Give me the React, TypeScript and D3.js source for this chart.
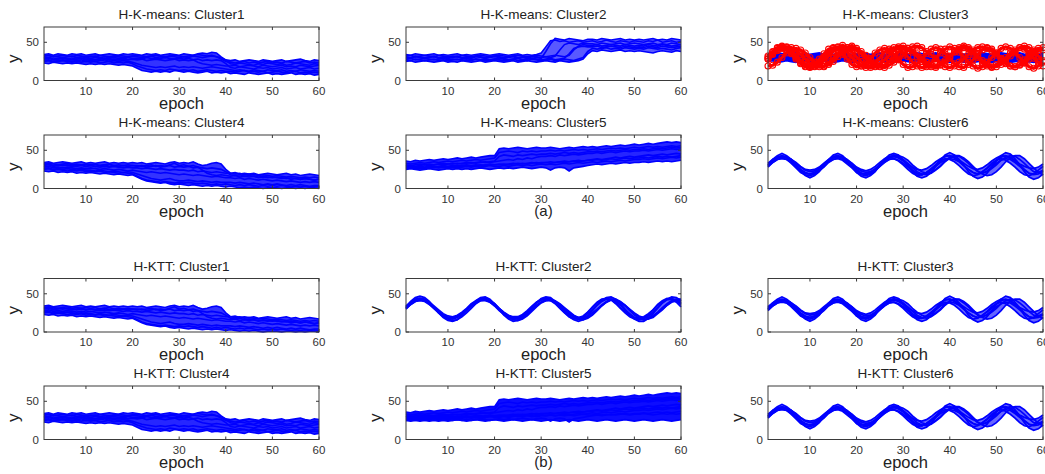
import React from "react";
import * as d3 from "d3";

// x axis: epochs 1..60
const epochs = d3.range(1, 61);
const xTicks = [10, 20, 30, 40, 50, 60];
const yTicks = [0, 50];

// level near 30, then a drop (H-K-means Cluster1, H-KTT Cluster4)
const dropLines: number[][] = [
  [34,35,33,35,34,33,35,34,35,33, 34,35,33,34,35,34,33,35,34,35, 34,33,35,34,35,33,34,35,34,33,
   35,34,33,35,36,35,37,36,31,27, 26,27,25,26,27,26,25,27,26,25, 26,27,25,26,27,28,26,25,27,26],
  [31,30,32,31,30,31,32,30,31,30, 31,32,30,31,30,32,31,30,31,32, 31,30,31,32,30,31,30,32,31,30,
   31,30,32,31,30,31,32,31,30,26, 22,21,23,22,21,20,22,21,23,22, 21,22,20,21,23,22,21,20,22,21],
  [28,29,27,28,29,28,27,28,29,27, 28,27,28,29,27,28,27,28,27,28, 27,28,26,27,28,27,26,27,28,26,
   27,26,27,28,26,27,26,27,26,22, 17,16,18,17,16,15,17,16,17,15, 16,17,15,16,17,15,16,17,15,16],
  [25,26,24,25,26,25,24,25,24,25, 24,25,23,24,25,23,24,23,24,22, 19,17,15,14,13,14,13,15,14,13,
   14,13,14,12,13,14,13,12,13,12, 12,11,12,13,11,12,11,12,10,11, 12,11,10,11,12,10,11,10,11,10],
  [23,22,24,23,22,23,22,23,22,21, 22,21,22,21,22,21,20,21,20,19, 16,13,12,11,12,11,12,11,13,12,
   11,12,11,10,11,12,10,11,10,11, 9,10,9,8,10,9,8,9,10,8, 9,8,9,10,8,9,8,9,7,8],
  [29,30,28,29,30,29,28,30,29,28, 29,30,29,28,29,30,29,28,30,29, 29,28,30,29,28,29,30,29,28,29,
   28,29,27,24,22,21,20,21,20,19, 19,20,18,19,20,19,18,20,19,18, 19,20,18,19,18,20,19,18,19,20],
  [32,33,31,32,33,32,31,33,32,31, 32,31,33,32,31,32,33,32,31,32, 33,32,31,32,33,32,31,32,33,32,
   31,32,33,34,33,32,33,31,28,25, 24,23,24,25,23,24,23,24,25,23, 24,23,25,24,23,24,25,23,24,23],
  [26,27,25,26,27,26,25,26,27,25, 26,25,26,27,25,26,25,26,25,24, 22,20,19,18,17,18,17,18,19,17,
   18,17,18,17,16,17,18,17,16,15, 14,13,14,13,12,14,13,12,14,13, 13,14,12,13,12,14,13,12,13,12],
];

// slow decline with a split after epoch 20 (H-K-means Cluster4, H-KTT Cluster1)
const declineLines: number[][] = [
  [34,35,33,34,35,34,33,34,35,33, 34,33,34,35,33,34,33,34,33,34, 33,34,32,33,34,33,32,34,35,33,
   34,33,35,32,30,31,33,34,32,25, 20,21,19,20,19,20,18,19,20,19, 18,19,20,18,19,17,18,19,18,17],
  [31,32,30,31,30,31,30,29,30,29, 30,29,28,29,28,29,28,27,28,27, 27,26,27,26,25,26,25,24,25,24,
   24,23,24,22,23,22,21,22,21,20, 20,19,20,18,19,18,17,18,17,16, 17,16,15,16,15,14,15,14,15,14],
  [28,29,27,28,27,28,27,26,27,26, 27,26,25,26,25,24,25,24,23,24, 23,22,21,22,21,20,21,20,19,18,
   19,18,17,18,17,16,15,16,15,14, 14,13,14,12,13,12,11,12,11,10, 11,10,9,10,9,8,9,8,9,8],
  [25,26,24,25,24,23,24,23,24,22, 23,22,23,21,22,21,20,21,20,19, 16,13,11,10,9,8,9,8,7,8,
   7,8,7,6,7,6,5,6,5,6, 5,4,5,4,5,4,3,4,3,4, 3,4,3,2,3,2,3,2,3,2],
  [23,22,23,21,22,21,22,20,21,20, 21,20,19,20,19,18,19,18,17,18, 15,12,10,9,8,7,8,6,5,6,
   5,4,5,4,3,4,3,4,3,2, 3,2,1,2,1,2,1,0,1,1, 1,0,1,1,0,1,0,1,1,0],
  [30,31,29,30,31,30,29,30,31,29, 30,29,30,31,29,30,29,30,29,30, 29,30,28,29,30,28,29,31,33,30,
   31,29,30,28,24,20,18,17,18,17, 16,17,15,16,15,16,14,15,14,15, 14,13,14,12,13,12,13,12,11,12],
  [26,27,25,26,25,26,25,24,25,24, 24,23,24,23,22,23,22,21,22,21, 19,17,15,13,12,11,12,13,11,10,
   10,11,10,9,10,9,8,9,8,8, 8,7,8,7,6,7,6,5,6,5, 6,5,4,5,4,5,4,3,4,4],
  [32,33,32,31,32,33,31,32,31,32, 31,32,30,31,32,30,31,30,31,30, 30,29,30,31,29,30,29,30,28,29,
   28,29,27,28,27,26,27,26,25,22, 18,17,18,16,17,16,15,16,15,14, 15,14,13,14,13,12,13,12,11,12],
];

// level near 30, then a step up (H-K-means Cluster2)
const stepUpLines: number[][] = [
  [34,33,35,34,33,34,35,33,34,33, 34,35,33,34,33,34,35,34,33,34, 35,34,33,34,35,33,34,33,34,36,
   44,52,53,51,52,50,51,52,50,51, 52,50,51,53,51,50,52,51,50,52, 51,50,52,51,53,50,51,52,50,51],
  [31,30,32,31,30,31,32,30,31,30, 31,32,30,31,30,32,31,30,31,32, 31,30,31,32,30,31,30,32,31,30,
   31,30,32,40,47,49,48,47,49,48, 48,47,49,48,47,48,49,47,48,49, 48,47,48,49,47,48,47,49,48,47],
  [28,29,27,28,29,28,27,28,29,27, 28,27,28,29,27,28,27,28,27,28, 29,28,27,28,29,27,28,29,28,27,
   28,29,27,28,29,35,42,44,45,44, 44,45,43,44,45,44,43,45,44,43, 44,43,45,44,43,45,44,43,44,45],
  [25,26,24,25,26,25,24,25,26,24, 25,24,26,25,24,25,26,24,25,26, 25,24,25,26,24,25,26,25,24,25,
   26,25,24,26,25,24,25,26,28,35, 39,38,40,39,38,39,40,38,39,38, 39,38,37,36,38,39,38,37,39,38],
  [32,33,31,32,33,32,31,33,32,31, 32,31,33,32,31,32,33,32,31,32, 33,32,31,32,33,32,31,32,33,32,
   31,32,33,32,31,33,40,45,47,46, 46,47,45,46,47,46,45,47,46,45, 46,45,47,46,45,47,46,45,46,47],
  [27,26,28,27,26,27,28,26,27,26, 27,28,26,27,26,28,27,26,27,28, 27,26,27,28,26,27,26,28,27,26,
   27,28,26,27,28,27,26,28,30,38, 42,41,42,43,41,42,41,43,42,41, 42,41,43,42,41,42,41,40,42,43],
  [30,29,31,30,29,30,31,29,30,29, 30,31,29,30,29,31,30,29,30,31, 30,29,30,31,29,30,29,31,30,29,
   38,48,55,54,53,55,54,53,52,54, 54,53,55,54,53,54,55,53,54,53, 54,53,54,55,53,54,53,55,54,53],
];

// rising trend with a jump at epoch 21 (Cluster5 in both methods)
const riseLines: number[][] = [
  [36,35,37,36,37,38,37,38,39,38, 39,40,39,40,41,40,41,42,43,43, 52,53,52,53,54,53,52,53,54,53,
   53,54,53,52,53,54,53,54,55,54, 55,54,55,56,55,56,57,56,57,58, 57,58,59,58,59,60,61,60,61,60],
  [33,32,33,34,33,34,35,34,35,36, 35,36,37,36,37,38,37,38,39,40, 47,48,49,48,47,49,48,49,48,49,
   49,50,49,50,49,50,51,50,51,50, 51,52,51,52,53,52,53,52,53,54, 53,54,55,54,55,54,55,56,55,56],
  [29,30,29,30,31,30,31,32,31,32, 32,33,32,33,34,33,34,35,34,35, 36,37,38,37,39,38,40,39,41,42,
   42,43,42,44,43,44,45,44,45,46, 46,47,46,47,48,47,48,49,48,49, 49,50,49,50,51,50,51,52,51,52],
  [27,28,27,28,27,28,29,28,29,28, 29,30,29,30,29,30,31,30,31,31, 31,32,31,32,33,32,33,34,33,34,
   34,35,34,35,36,35,36,37,36,37, 38,39,38,39,40,41,40,41,42,41, 42,43,44,43,44,45,44,45,46,45],
  [25,26,25,24,25,26,25,24,25,26, 25,26,25,26,25,26,27,26,25,26, 27,26,27,26,27,28,27,26,27,28,
   27,24,27,28,27,23,27,28,29,30, 31,32,31,32,33,32,33,34,33,34, 34,35,34,35,36,35,36,35,36,37],
  [31,30,31,32,31,32,31,32,33,32, 33,32,33,34,33,34,35,34,35,36, 42,44,43,42,44,43,44,45,44,45,
   45,46,45,46,47,46,47,46,47,48, 48,49,48,49,50,49,50,51,50,51, 51,52,51,52,53,52,53,54,53,54],
  [28,29,28,29,28,29,28,29,30,29, 30,29,30,31,30,31,30,31,32,31, 32,31,32,33,32,33,32,33,34,33,
   34,33,34,35,34,35,36,35,36,37, 37,38,37,38,39,38,39,40,39,40, 40,41,40,41,42,41,42,41,42,43],
  [26,27,26,27,26,27,28,27,28,27, 28,27,28,29,28,29,28,29,30,29, 29,30,29,30,31,30,31,30,31,32,
   31,32,31,32,33,32,33,34,33,34, 35,34,35,36,35,36,37,36,37,38, 38,39,38,39,40,39,40,41,40,41],
];

// extra low, flat members seen in H-KTT Cluster5
const riseFlatLines: number[][] = [
  [25,24,25,26,25,24,25,26,25,24, 25,26,25,24,25,26,25,24,25,26, 25,24,25,26,25,24,25,26,25,24,
   25,26,25,24,25,26,25,24,25,26, 25,24,25,26,25,24,25,26,25,24, 25,26,25,24,25,26,25,24,25,26],
  [29,30,29,28,29,30,29,30,29,30, 29,30,30,29,30,31,30,29,30,31, 30,31,30,31,30,31,32,31,30,31,
   31,32,31,32,31,32,31,32,33,32, 32,33,32,33,32,33,34,33,32,33, 33,34,33,32,33,34,33,34,33,34],
];

// periodic members, ~12 epoch period (H-K-means Cluster6, H-KTT Cluster3/6)
const waveLines: number[][] = [
  [31,37,41,43,41,37,31,25,21,19,21,25, 31,37,42,43,41,36,31,25,20,19,21,25, 30,37,41,44,41,37,30,24,20,18,21,25,
   31,38,42,43,40,36,30,25,21,19,22,26, 31,37,41,43,41,37,31,25,20,19,21,24],
  [29,34,38,39,38,34,29,24,20,19,20,24, 29,35,38,40,38,34,28,23,20,19,21,24, 29,34,38,39,37,33,28,23,19,18,20,24,
   29,34,37,39,38,35,30,25,21,19,20,23, 28,33,37,39,38,34,29,24,20,18,19,23],
  [30,38,43,46,43,38,30,22,17,14,17,22, 30,38,44,46,43,37,29,21,16,14,17,22, 31,38,44,46,44,37,30,22,16,14,16,21,
   29,37,44,47,44,38,31,22,16,13,15,20, 28,36,43,47,45,39,31,22,15,12,14,19],
  [32,36,40,42,41,38,33,28,24,22,23,27, 32,37,41,42,41,38,33,27,23,21,22,26, 31,35,40,42,43,41,37,31,26,22,20,21,
   25,30,36,41,43,42,38,33,27,22,20,22, 26,31,37,41,43,42,38,33,27,22,21,22],
  [28,34,38,40,38,33,27,21,18,17,19,23, 28,34,38,39,37,32,27,21,18,17,19,23, 29,35,38,39,36,31,25,20,17,18,21,26,
   31,36,39,38,35,30,24,19,17,18,22,27, 33,37,39,37,33,28,22,18,17,19,24,29],
  [33,38,41,42,41,38,34,29,25,24,25,28, 33,38,41,42,40,37,33,28,25,23,25,29, 34,39,42,42,40,36,32,28,25,24,26,30,
   35,39,42,43,41,37,33,29,26,25,27,31, 36,40,43,42,40,36,32,29,27,26,28,32],
  [30,35,40,42,40,36,30,24,20,19,21,25, 30,36,40,42,40,35,29,24,20,18,20,25, 30,35,40,42,41,38,33,27,22,19,18,20,
   24,29,35,40,43,43,40,35,29,23,19,17, 18,22,28,35,40,43,43,39,33,27,21,18],
];

// periodic members, ~13.5 epoch period (H-KTT Cluster2)
const slowWaveLines: number[][] = [
  [32,38,42,44,42,38,32,26,21,18, 17,19,24,29,35,40,43,44,40,35, 29,24,19,17,18,21,26,32,38,42,
   43,42,38,32,26,21,18,17,19,24, 29,35,40,43,43,40,35,29,24,19, 17,18,21,26,32,38,42,43,42,38],
  [31,36,40,41,40,36,31,26,22,19, 19,20,24,29,34,38,41,41,39,35, 30,25,21,19,19,21,25,30,35,39,
   41,41,39,35,30,25,21,19,19,21, 25,30,35,39,42,42,39,35,30,25, 21,19,19,21,25,30,35,39,41,40],
  [33,40,45,47,45,40,33,25,19,15, 14,16,22,28,35,41,45,46,43,37, 29,22,17,14,15,18,24,31,38,44,
   46,45,40,33,26,20,16,14,16,21, 28,35,41,45,46,43,37,30,23,17, 14,14,18,24,31,38,43,46,45,41],
  [34,39,43,44,43,39,34,29,24,21, 20,22,26,31,37,41,44,44,41,37, 31,26,22,20,20,23,28,34,39,43,
   44,43,39,33,28,23,20,19,21,26, 32,38,42,44,42,38,32,27,22,19, 18,20,24,29,35,40,43,44,41,36],
  [30,36,40,42,41,37,31,25,20,17, 15,16,20,25,31,37,41,42,41,37, 31,25,20,16,15,17,21,27,33,38,
   41,42,40,36,31,25,20,17,16,18, 22,28,34,39,42,42,39,34,28,22, 18,16,17,21,26,32,37,41,42,40],
  [32,37,41,43,41,37,31,25,21,18, 18,20,25,30,36,40,43,43,39,34, 28,23,19,17,18,22,27,33,39,42,
   43,41,37,31,25,20,17,17,20,26, 33,39,43,44,42,37,31,25,20,17, 16,18,23,29,36,41,44,43,39,33],
  [31,37,41,43,42,38,32,27,22,19, 18,20,24,30,35,40,42,42,40,36, 30,25,21,18,17,19,23,29,34,39,
   42,43,41,37,32,27,22,19,18,19, 23,29,35,40,43,43,40,35,29,24, 20,17,17,19,24,29,35,40,43,43],
];

// flat members under the red ones in H-K-means Cluster3
const flatLines: number[][] = [
  [35,34,36,35,34,35,36,34,35,34, 35,36,34,35,34,35,36,35,34,35, 36,35,34,35,36,34,35,34,35,36,
   35,34,36,35,34,35,36,34,35,34, 35,36,34,35,34,35,36,35,34,35, 36,35,34,35,36,34,35,34,35,36],
  [31,32,30,31,32,31,30,32,31,30, 31,30,32,31,30,31,32,31,30,31, 32,31,30,31,32,30,31,30,31,32,
   31,30,32,31,30,31,32,30,31,30, 31,32,30,31,30,31,32,31,30,31, 32,31,30,31,32,30,31,30,31,32],
  [25,26,24,25,26,25,24,26,25,24, 25,24,26,25,24,25,26,25,24,25, 26,25,24,25,26,24,25,24,25,26,
   25,24,26,25,24,25,26,24,25,24, 25,26,24,25,24,25,26,25,24,25, 26,25,24,25,26,24,25,24,25,26],
];

// red periodic members in H-K-means Cluster3
const redWaveLines: number[][] = [
  [32,38,43,45,43,38,32,26,21,18,18,21,26, 32,38,43,46,43,37,31,25,20,17,18,22,27,
   33,39,44,45,42,37,31,25,20,18,19,21,26, 32,38,43,45,43,38,32,26,21,18,18,21,26, 32,38,43,45,43,38,32,26],
  [30,37,42,44,41,36,30,23,19,17,19,24, 30,36,42,44,42,37,30,24,19,17,19,23, 30,37,41,43,42,36,31,24,19,17,18,23,
   29,36,41,44,42,37,31,24,19,16,18,24, 30,36,42,44,42,36,30,23,18,16,19,24],
  [28,34,39,43,44,43,39,34,28,23,19,18,19,23, 29,35,40,43,45,42,38,33,27,22,19,17,20,24,
   28,33,39,44,45,43,38,34,29,23,18,17,19,24, 28,34,40,43,44,42,39,33,28,22,19,18,20,23, 28,34,39,43],
  [19,20,24,30,36,40,42,40,36,30,24,20, 18,21,25,31,36,41,43,40,35,29,23,19, 18,20,25,30,37,41,42,39,35,30,24,20,
   17,20,24,31,37,41,43,41,36,30,23,19, 17,21,25,30,36,40,43,41,36,29,24,19],
  [28,35,40,42,40,35,28,22,18,18,22, 28,35,41,43,40,34,28,21,18,19,23, 29,36,40,42,39,34,27,21,17,18,22,
   28,35,41,43,41,35,29,22,18,17,21, 27,34,40,43,41,36,29,23,19,18,21, 27,34,40,42,40],
];

type Spec = {
  title: string;
  blue: number[][];
  red?: number[][];
  xlabel: string;
  sw: number;
  band: number; // opacity of the blue min/max envelope
};

const panels: Spec[] = [
  { title: "H-K-means: Cluster1", blue: dropLines, xlabel: "epoch", sw: 1.6, band: 0.8 },
  { title: "H-K-means: Cluster2", blue: stepUpLines, xlabel: "epoch", sw: 1.6, band: 0.65 },
  { title: "H-K-means: Cluster3", blue: flatLines, red: redWaveLines, xlabel: "epoch", sw: 2, band: 1 },
  { title: "H-K-means: Cluster4", blue: declineLines, xlabel: "epoch", sw: 1.6, band: 0.8 },
  { title: "H-K-means: Cluster5", blue: riseLines, xlabel: "(a)", sw: 1.6, band: 0.85 },
  { title: "H-K-means: Cluster6", blue: waveLines, xlabel: "epoch", sw: 1.7, band: 0.6 },
  { title: "H-KTT: Cluster1", blue: declineLines, xlabel: "epoch", sw: 1.6, band: 0.8 },
  { title: "H-KTT: Cluster2", blue: slowWaveLines, xlabel: "epoch", sw: 1.7, band: 0.6 },
  { title: "H-KTT: Cluster3", blue: waveLines, xlabel: "epoch", sw: 1.7, band: 0.6 },
  { title: "H-KTT: Cluster4", blue: dropLines, xlabel: "epoch", sw: 1.6, band: 0.85 },
  { title: "H-KTT: Cluster5", blue: [...riseFlatLines, ...riseLines], xlabel: "(b)", sw: 1.6, band: 0.95 },
  { title: "H-KTT: Cluster6", blue: waveLines, xlabel: "epoch", sw: 1.7, band: 0.6 },
];

const colLeft = [44, 406, 768];
const rowTop = [27, 135, 278.5, 386];
const W = 275;
const H = 53.5;
const FONT = "'Liberation Sans', Arial, Helvetica, sans-serif";

function Panel({ spec, left, top }: { spec: Spec; left: number; top: number }) {
  const x = d3.scaleLinear().domain([1, 60]).range([0, W]);
  const y = d3.scaleLinear().domain([0, 70]).range([H, 0]);
  const line = d3
    .line<number>()
    .x((_, i) => x(epochs[i]))
    .y((d) => y(d));
  const band = d3
    .area<number>()
    .x((t) => x(t))
    .y0((_, i) => y(d3.min(spec.blue, (s) => s[i]) as number))
    .y1((_, i) => y(d3.max(spec.blue, (s) => s[i]) as number));
  const isSub = spec.xlabel !== "epoch";

  return (
    <g transform={`translate(${left},${top})`} fontFamily={FONT}>
      <path d={band(epochs) || ""} fill="#0000ff" fillOpacity={spec.band} stroke="none" />
      {spec.blue.map((s, i) => (
        <path key={"b" + i} d={line(s) || ""} fill="none" stroke="#0000ff" strokeWidth={spec.sw} />
      ))}
      {spec.red &&
        spec.red.map((s, i) => (
          <g key={"r" + i}>
            <path d={line(s) || ""} fill="none" stroke="#ff0000" strokeWidth={3.2} />
            {s.map((v, j) => (
              <circle key={j} cx={x(epochs[j])} cy={y(v)} r={3} fill="none" stroke="#ff0000" strokeWidth={1.1} />
            ))}
          </g>
        ))}
      <rect x={0} y={0} width={W} height={H} fill="none" stroke="#3a3a3a" strokeWidth={1} />
      {xTicks.map((t) => (
        <g key={"xt" + t}>
          <line x1={x(t)} x2={x(t)} y1={H} y2={H - 3} stroke="#3a3a3a" />
          <line x1={x(t)} x2={x(t)} y1={0} y2={3} stroke="#3a3a3a" />
          <text x={x(t)} y={H + 14} textAnchor="middle" fontSize={11.5} fill="#333">
            {t}
          </text>
        </g>
      ))}
      {yTicks.map((t) => (
        <g key={"yt" + t}>
          <line x1={0} x2={3} y1={y(t)} y2={y(t)} stroke="#3a3a3a" />
          <line x1={W} x2={W - 3} y1={y(t)} y2={y(t)} stroke="#3a3a3a" />
          <text x={-5} y={y(t)} dy="0.36em" textAnchor="end" fontSize={11.5} fill="#333">
            {t}
          </text>
        </g>
      ))}
      <text x={W / 2} y={-8} textAnchor="middle" fontSize={13.5} fill="#222">
        {spec.title}
      </text>
      <text
        transform={`translate(${-25},${H / 2 + 5}) rotate(-90)`}
        textAnchor="middle"
        fontSize={17}
        fill="#222"
      >
        y
      </text>
      <text x={W / 2} y={H + (isSub ? 27 : 28)} textAnchor="middle" fontSize={isSub ? 15 : 16.5} fill="#222">
        {spec.xlabel}
      </text>
    </g>
  );
}

export default function App() {
  return (
    <svg
      width={1045}
      height={474}
      style={{ position: "absolute", left: 0, top: 0, background: "#fff" }}
    >
      <rect width={1045} height={474} fill="#fff" />
      {panels.map((p, i) => (
        <Panel key={i} spec={p} left={colLeft[i % 3]} top={rowTop[Math.floor(i / 3)]} />
      ))}
    </svg>
  );
}
